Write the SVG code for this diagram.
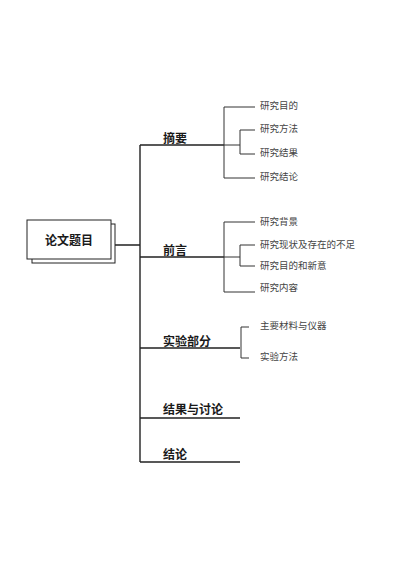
<svg xmlns="http://www.w3.org/2000/svg" width="400" height="565" viewBox="0 0 400 565">
<style>
.main{font-family:"Noto Sans CJK SC","Noto Sans",sans-serif;font-size:12px;font-weight:bold;fill:#1a1a1a}
.sub{font-family:"Noto Sans CJK SC","Noto Sans",sans-serif;font-size:9.5px;fill:#444}
.ln{stroke:#222;stroke-width:1.4;fill:none}
.sl{stroke:#333;stroke-width:1;fill:none}
.box{fill:#fff;stroke:#222;stroke-width:1}
</style>
<rect width="400" height="565" fill="#fff"/>
<g id="root">
<rect class="box" x="32" y="224" width="83" height="39"/>
<rect class="box" x="27" y="220" width="84" height="39"/>
<text class="main" x="69" y="244.5" text-anchor="middle">论文题目</text>
</g>
<g id="connectors">
<path class="ln" d="M115 245H140M140 145V462M140 145H224M140 257H224M140 348H240M140 418H240M140 462H240"/>
<path class="sl" d="M255 107H224V178H255M224 145H240M255 130H240V154H255"/>
<path class="sl" d="M255 222H224V292H255M224 257H240M255 245H240V266H255"/>
<path class="sl" d="M249 327H241V358H249"/>
</g>
<g id="n-zhaiyao"><text class="main" x="163" y="143">摘要</text></g>
<g id="n-qianyan"><text class="main" x="163" y="255">前言</text></g>
<g id="n-shiyan"><text class="main" x="163" y="346">实验部分</text></g>
<g id="n-jieguo"><text class="main" x="163" y="414">结果与讨论</text></g>
<g id="n-jielun"><text class="main" x="163" y="459">结论</text></g>
<g id="s1"><text class="sub" x="260" y="109">研究目的</text></g>
<g id="s2"><text class="sub" x="260" y="132">研究方法</text></g>
<g id="s3"><text class="sub" x="260" y="156">研究结果</text></g>
<g id="s4"><text class="sub" x="260" y="180">研究结论</text></g>
<g id="s5"><text class="sub" x="260" y="225">研究背景</text></g>
<g id="s6"><text class="sub" x="260" y="248">研究现状及存在的不足</text></g>
<g id="s7"><text class="sub" x="260" y="269">研究目的和新意</text></g>
<g id="s8"><text class="sub" x="260" y="291">研究内容</text></g>
<g id="s9"><text class="sub" x="260" y="329">主要材料与仪器</text></g>
<g id="s10"><text class="sub" x="260" y="360">实验方法</text></g>
</svg>
